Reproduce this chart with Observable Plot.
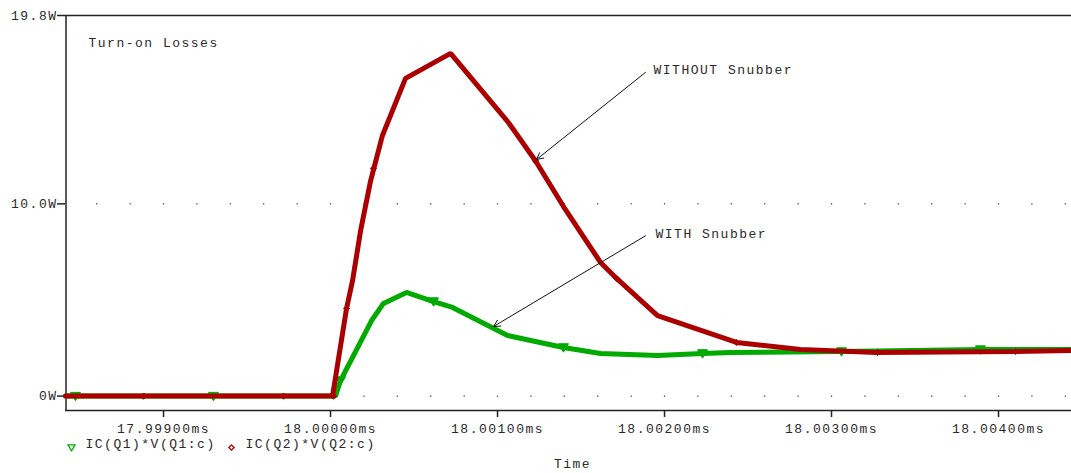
<!DOCTYPE html>
<html>
<head>
<meta charset="utf-8">
<script src="https://cdn.jsdelivr.net/npm/d3@7"></script>
<script src="https://cdn.jsdelivr.net/npm/@observablehq/plot@0.6"></script>
<style>
  html, body { margin: 0; padding: 0; background: #fff; }
  #chart svg { display: block; }
</style>
</head>
<body>
<div id="chart"></div>
<script>
// ---- Data (time in ms, power in W) ----
const greenTime = [17.998413, 18.000030, 18.000060, 18.000246, 18.000317, 18.000455, 18.000617, 18.000731, 18.001060, 18.001395, 18.001617, 18.001958, 18.002228, 18.002395, 18.003060, 18.003892, 18.004437];
const greenPower = [0, 0, 0.81, 3.93, 4.82, 5.39, 4.92, 4.61, 3.15, 2.53, 2.22, 2.11, 2.22, 2.27, 2.32, 2.42, 2.42];

const redTime = [17.998413, 18.000012, 18.000096, 18.000132, 18.000180, 18.000240, 18.000311, 18.000449, 18.000719, 18.001066, 18.001228, 18.001395, 18.001617, 18.001713, 18.001958, 18.002431, 18.002814, 18.003269, 18.004102, 18.004437];
const redPower = [0, 0, 4.56, 6.01, 8.6, 11.2, 13.56, 16.53, 17.83, 14.22, 12.23, 9.86, 6.95, 6.12, 4.19, 2.79, 2.42, 2.27, 2.32, 2.37];

const greenMarkTime = [17.998473, 17.999299, 18.000060, 18.000617, 18.001395, 18.002228, 18.003060, 18.003892];
const greenMarkPower = [0, 0, 0.81, 4.92, 2.53, 2.22, 2.32, 2.42];
const redMarkTime = [17.998880, 17.999719, 18.000018, 18.000096, 18.000257, 18.001228, 18.001713, 18.002431, 18.003275, 18.004102];
const redMarkPower = [0, 0, 0, 4.56, 11.84, 12.23, 6.12, 2.79, 2.27, 2.32];

const xTicks = [17.999, 18.000, 18.001, 18.002, 18.003, 18.004];
const yTicks = [0, 10, 19.8];
const yTickLabels = ["0W", "10.0W", "19.8W"];
const xDomain = [17.998416, 18.004437];
const yDomain = [-0.75, 19.8];
const gridX = d3.range(-7, 23).map(k => 18 + k * 0.0002);
const gridY = [0, 10];

const seriesNames = ["IC(Q1)*V(Q1:c)", "IC(Q2)*V(Q2:c)"];
const title = "Turn-on Losses";
const xLabel = "Time";
const annotations = [
  {label: "WITHOUT Snubber", tx: 18.001934, ty: 16.99, x1: 18.001886, y1: 16.84, x2: 18.001234, y2: 12.31},
  {label: "WITH Snubber",    tx: 18.001946, ty: 8.46,  x1: 18.001886, y1: 8.34,  x2: 18.000976, y2: 3.62}
];

const GREEN = "#00aa00";
const RED = "#aa0000";
const FONT = "Liberation Mono, Courier New, monospace";
const TXT = "#2a2a2a";

const green = greenTime.map((t, i) => ({t, p: greenPower[i]}));
const red = redTime.map((t, i) => ({t, p: redPower[i]}));
const greenMarks = greenMarkTime.map((t, i) => ({t, p: greenMarkPower[i]}));
const redMarks = redMarkTime.map((t, i) => ({t, p: redMarkPower[i]}));
const grid = gridY.flatMap(y => gridX.filter(x => x > xDomain[0] + 0.00005).map(x => ({x, y})));

const triDown = {
  draw(ctx, size) {
    const s = Math.sqrt(size) * 0.62;
    ctx.moveTo(-s, -s * 0.75);
    ctx.lineTo(s, -s * 0.75);
    ctx.lineTo(0, s * 0.95);
    ctx.closePath();
  }
};
const diamond = {
  draw(ctx, size) {
    const s = Math.sqrt(size) * 0.5;
    ctx.moveTo(0, -s);
    ctx.lineTo(s, 0);
    ctx.lineTo(0, s);
    ctx.lineTo(-s, 0);
    ctx.closePath();
  }
};

const plot = Plot.plot({
  width: 1071,
  height: 473,
  marginLeft: 65,
  marginRight: 0,
  marginTop: 15,
  marginBottom: 63,
  style: {fontFamily: FONT, fontSize: "13px", letterSpacing: "1.5px", color: TXT, background: "#fff"},
  x: {domain: xDomain, range: [65.5, 1071]},
  y: {domain: yDomain},
  marks: [
    Plot.dot(grid, {x: "x", y: "y", r: 0.7, fill: "#000", stroke: null}),
    Plot.ruleY([yDomain[0], yDomain[1]], {stroke: "#222", strokeWidth: 1.5}),
    Plot.ruleX([xDomain[0]], {stroke: "#222", strokeWidth: 1.5}),
    Plot.axisX({ticks: xTicks, tickFormat: d => d.toFixed(5) + "ms", tickSize: 7, tickPadding: 6, label: null, fontSize: 13, stroke: "#222", strokeWidth: 1.5, fill: TXT}),
    Plot.axisY({ticks: yTicks, tickFormat: d => yTickLabels[yTicks.indexOf(d)], tickSize: 8, tickPadding: 0, label: null, fontSize: 13, stroke: "#222", strokeWidth: 1.5, fill: TXT}),
    Plot.line(green, {x: "t", y: "p", stroke: GREEN, strokeWidth: 5, strokeLinejoin: "miter"}),
    Plot.dot(greenMarks, {x: "t", y: "p", symbol: triDown, r: 4.5, fill: GREEN, stroke: GREEN, strokeWidth: 1}),
    Plot.line(red, {x: "t", y: "p", stroke: RED, strokeWidth: 5, strokeLinejoin: "miter"}),
    Plot.dot(redMarks, {x: "t", y: "p", symbol: diamond, r: 3.5, fill: RED, stroke: RED, strokeWidth: 1}),
    Plot.arrow(annotations, {x1: "x1", y1: "y1", x2: "x2", y2: "y2", stroke: "#111", strokeWidth: 1, headLength: 11, headAngle: 55}),
    Plot.text(annotations, {x: "tx", y: "ty", text: "label", textAnchor: "start", fontSize: 13, fill: TXT}),
    Plot.text([title], {frameAnchor: "top-left", dx: 23, dy: 22, textAnchor: "start", fontSize: 13, fill: TXT}),
    Plot.text([xLabel], {frameAnchor: "bottom", dx: 4, dy: 57, fontSize: 13, fill: TXT}),
    Plot.dot([0], {frameAnchor: "bottom-left", dx: 6, dy: 37, symbol: triDown, r: 3.2, fill: "none", stroke: GREEN, strokeWidth: 1.3}),
    Plot.text([seriesNames[0]], {frameAnchor: "bottom-left", dx: 20, dy: 37, textAnchor: "start", fontSize: 13, fill: TXT}),
    Plot.dot([0], {frameAnchor: "bottom-left", dx: 166, dy: 37, symbol: diamond, r: 3, fill: "none", stroke: RED, strokeWidth: 1.3}),
    Plot.text([seriesNames[1]], {frameAnchor: "bottom-left", dx: 180, dy: 37, textAnchor: "start", fontSize: 13, fill: TXT})
  ]
});
document.getElementById("chart").appendChild(plot);
</script>
</body>
</html>
